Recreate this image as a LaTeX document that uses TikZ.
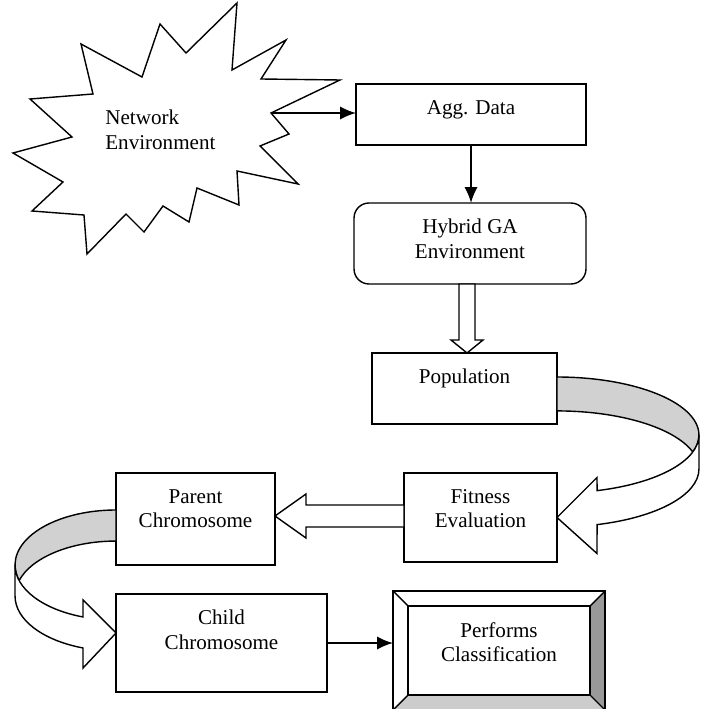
\documentclass[tikz,border=0pt]{standalone}
\usepackage{fontspec}
\setmainfont{Liberation Serif}
\usetikzlibrary{calc,arrows.meta,positioning}

\begin{document}
\begin{tikzpicture}[x=0.02cm, y=-0.02cm, font=\fontsize{12}{14}\selectfont,
          >={Latex[length=9pt,width=7.5pt]},
          box/.style={draw, line width=0.8pt, outer sep=0pt, inner sep=0pt},
          txt/.style={anchor=north, align=center, inner sep=0pt, yshift=-0.32cm},
          blk/.style={draw, line width=0.8pt, fill=white},
          conn/.style={->, line width=1.1pt}]
        \useasboundingbox (0,0) rectangle (705,709);
        \draw[line width=0.8pt, fill=white] (237,3) -- (232,70) -- (286,40) -- (261,79) -- (340,80) -- (271,113) -- (289,134) -- (260,146) -- (298,184) -- (237,171) -- (239,205) -- (197,188) -- (189,222) -- (163,206) -- (144,232) -- (126,214) -- (87,254) -- (84,215) -- (32,211) -- (63,182) -- (13,153) -- (72,137) -- (30,99) -- (93,94) -- (81,44) -- (142,77) -- (160,24) -- (186,53) -- cycle;
        \coordinate (netpt) at (271,113);
        \node[anchor=north west, align=left, inner sep=0pt] (net) at (105,110) {Network\\Environment};
        \node[box, minimum width=4.6cm, minimum height=1.22cm] (agg) at (471,114.5) {};
        \node[txt] (aggt) at (agg.north) {Agg. Data};
        \node[box, rounded corners=0.3cm, minimum width=4.64cm, minimum height=1.62cm] (hyb) at (470,243.5) {};
        \node[txt] (hybt) at (hyb.north) {Hybrid GA\\Environment};
        \node[box, minimum width=3.7cm, minimum height=1.42cm] (pop) at (464.5,388.5) {};
        \node[txt] (popt) at (pop.north) {Population};
        \node[box, minimum width=3.06cm, minimum height=1.78cm] (fit) at (480.5,517.5) {};
        \node[txt] (fitt) at (fit.north) {Fitness\\Evaluation};
        \node[box, minimum width=3.18cm, minimum height=1.84cm] (par) at (195.5,519) {};
        \node[txt] (part) at (par.north) {Parent\\Chromosome};
        \node[box, minimum width=4.22cm, minimum height=1.96cm] (chd) at (221.5,643) {};
        \node[txt] (chdt) at (chd.north) {Child\\Chromosome};
        \node[box, draw=none, minimum width=4.24cm, minimum height=2.38cm] (perf) at (499,650.5) {};
        \fill[black!40] (perf.north east) -- (perf.south east) -- ($(perf.south east)+(-15,-15)$) -- ($(perf.north east)+(-15,15)$) -- cycle;
        \fill[black!20] (perf.south west) -- (perf.south east) -- ($(perf.south east)+(-15,-15)$) -- ($(perf.south west)+(15,-15)$) -- cycle;
        \draw[line width=0.8pt] (perf.north west) rectangle (perf.south east);
        \draw[line width=0.8pt] ($(perf.north west)+(15,15)$) rectangle ($(perf.south east)+(-15,-15)$);
        \draw[line width=0.8pt] (perf.north west) -- ++(15,15) (perf.north east) -- ++(-15,15)
          (perf.south west) -- ++(15,-15) (perf.south east) -- ++(-15,-15);
        \node[txt] (perft) at ($(perf.north)+(0,15)$) {Performs\\Classification};

        \draw[conn] (netpt) -- (netpt -| agg.west);
        \draw[conn] (agg.south) -- (agg.south |- hyb.north);
        \coordinate (h1) at ($(hyb.south)+(-3,0)$);
        \draw[blk] ($(h1)+(-8,0)$) -- ++(0,56) -- ++(-8,0) -- (h1 |- pop.north) -- ++(16,-13) -- ++(-8,0) -- ($(h1)+(8,0)$) -- cycle;
        \coordinate (ra) at ($(pop.east)+(0,46.5)$);
        \coordinate (rb) at ($(ra)+(0,34)$);
        \draw[blk, fill=black!18] ($(ra)+(0,-58)$) arc[start angle=90, end angle=-17, x radius=2.84cm, y radius=1.16cm]
          arc[start angle=17, end angle=90, x radius=2.84cm, y radius=1.16cm] -- cycle;
        \draw[blk] ($(ra)+(142,0)$) arc[start angle=0, end angle=-73.6, x radius=2.84cm, y radius=1.16cm]
          -- ($(fit.east)+(40,-40)$) -- (fit.east) -- ($(fit.east)+(40,36)$)
          -- ($(rb)+(-73.6:2.84cm and 1.16cm)$) arc[start angle=-73.6, end angle=0, x radius=2.84cm, y radius=1.16cm] -- cycle;
        \coordinate (f1) at ($(fit.west)+(0,-1.5)$);
        \coordinate (p1) at (par.east |- f1);
        \draw[blk] ($(f1)+(0,-11)$) -- ($(p1)+(31,-11)$) -- ($(p1)+(31,-22)$) -- (p1) -- ($(p1)+(31,22)$) -- ($(p1)+(31,11)$) -- ($(f1)+(0,11)$) -- cycle;
        \coordinate (la) at ($(par.west)+(0,46)$);
        \coordinate (lb) at ($(la)+(0,31)$);
        \coordinate (ct) at ($(chd.west)+(0,-10)$);
        \draw[blk, fill=black!18] ($(la)+(0,-55)$) arc[start angle=90, end angle=196.4, x radius=2.02cm, y radius=1.1cm]
          arc[start angle=163.6, end angle=90, x radius=2.02cm, y radius=1.1cm] -- cycle;
        \draw[blk] ($(la)+(-101,0)$) arc[start angle=180, end angle=250.9, x radius=2.02cm, y radius=1.1cm]
          -- ($(ct)+(-33,-33)$) -- (ct) -- ($(ct)+(-33,35)$)
          -- ($(lb)+(250.9:2.02cm and 1.1cm)$) arc[start angle=250.9, end angle=180, x radius=2.02cm, y radius=1.1cm] -- cycle;
        \draw[conn] (chd.east) -- (chd.east -| perf.west);
      \end{tikzpicture}
\end{document}
